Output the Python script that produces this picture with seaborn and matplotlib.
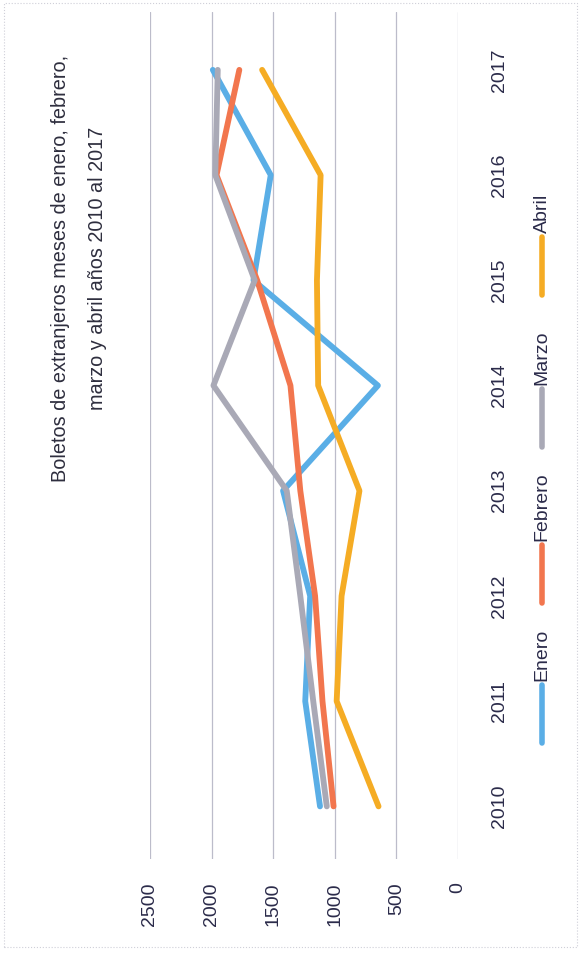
import pandas as pd
import matplotlib.pyplot as plt
import seaborn as sns
from matplotlib.lines import Line2D
from matplotlib.patches import Rectangle

anios = [2010, 2011, 2012, 2013, 2014, 2015, 2016, 2017]
enero = [1120, 1240, 1200, 1420, 650, 1660, 1520, 1990]
febrero = [1010, 1100, 1160, 1280, 1360, 1630, 1960, 1775]
marzo = [1065, 1175, 1280, 1390, 1985, 1650, 1970, 1950]
abril = [645, 985, 945, 800, 1135, 1145, 1115, 1590]

meses = ["Enero", "Febrero", "Marzo", "Abril"]
colores = ["#5AAEE6", "#F2764E", "#A9A9B6", "#F5AC24"]
valores_eje = [0, 500, 1000, 1500, 2000, 2500]

titulo = "Boletos de extranjeros meses de enero, febrero,\nmarzo y abril años 2010 al 2017"

sns.set_style("white")
plt.rcParams["font.family"] = ["Liberation Sans", "DejaVu Sans"]

# tabla larga para seaborn
df = pd.DataFrame({
    "anio": anios * 4,
    "boletos": enero + febrero + marzo + abril,
    "mes": [m for m in meses for _ in anios],
})

W, H = 580, 958
fig = plt.figure(figsize=(W / 100, H / 100), dpi=100)
ax = fig.add_axes([150 / W, 1 - 859 / H, 308 / W, 847 / H])

sns.lineplot(data=df, x="boletos", y="anio", hue="mes", orient="y",
             palette=dict(zip(meses, colores)), linewidth=4.2,
             legend=False, ax=ax, solid_capstyle="round", solid_joinstyle="round")

# grafico girado: valores de derecha a izquierda, años de abajo hacia arriba
ax.set_xlim(2500, 0)
ax.set_ylim(2009.5, 2017.55)
ax.set_xticks(valores_eje)
ax.set_xticklabels([str(v) for v in valores_eje], rotation=90, fontsize=14, color="#2b2b4a")
ax.set_yticks(anios)
ax.yaxis.tick_right()
ax.set_yticklabels([str(a) for a in anios], rotation=90, va="center", fontsize=14, color="#2b2b4a")
ax.tick_params(axis="x", length=0, pad=17)
ax.tick_params(axis="y", length=0, pad=24)
ax.set_xlabel("")
ax.set_ylabel("")
ax.grid(axis="x", color="#bcbcca", linewidth=0.9)
ax.grid(axis="y", visible=False)
for s in ax.spines.values():
    s.set_visible(False)

fig.text(79 / W, 1 - 268 / H, titulo, rotation=90, ha="center", va="center",
         multialignment="center", linespacing=2.15, fontsize=14.3, color="#2e2e3e")

# leyenda vertical a la derecha
for nombre, color, y0 in zip(meses, colores, [743, 603, 447, 295]):
    fig.add_artist(Line2D([542 / W, 542 / W], [1 - y0 / H, 1 - (y0 - 58) / H],
                          color=color, linewidth=4, solid_capstyle="round"))
    fig.text(542 / W, 1 - (y0 - 62) / H, nombre, rotation=90, ha="center", va="bottom",
             fontsize=14, color="#2b2b4a")

fig.add_artist(Rectangle((4 / W, 1 - 947 / H), 573 / W, 944 / H, fill=False,
                         edgecolor="#cfcfd8", linewidth=0.8, linestyle=":"))

fig.savefig("out.png", dpi=100)
